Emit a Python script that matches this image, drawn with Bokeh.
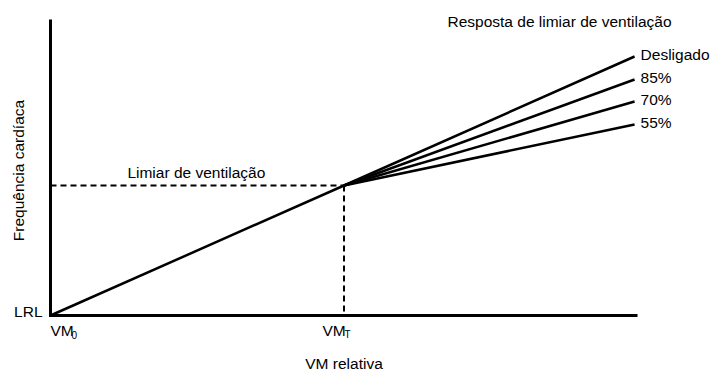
import math
from bokeh.plotting import figure
from bokeh.models import Range1d, ColumnDataSource
from bokeh.core.properties import value
from bokeh.embed import file_html
from bokeh.resources import INLINE

# ---- data (relative VM on x: 0 = VM0, 0.5 = VMT; heart-rate units on y: 0 = LRL) ----
vm_start = 0.0
vm_threshold = 0.5
vm_end = 1.0
vm_fan_end = 0.995
hr_lrl = 0.0
hr_threshold = 130.0
hr_axis_top = 296.0

response_labels = ["Desligado", "85%", "70%", "55%"]
response_end_hr = [259.0, 236.0, 214.0, 191.0]

FONT = value("Liberation Sans")
FS = "15.5px"

p = figure(width=712, height=372, output_backend="svg", toolbar_location=None,
           x_range=Range1d(-0.08518, 1.12777), y_range=Range1d(-57, 315),
           min_border=0, min_border_left=0, min_border_right=0,
           min_border_top=0, min_border_bottom=0)
p.axis.visible = False
p.grid.visible = False
p.outline_line_color = None
p.background_fill_color = "white"
p.border_fill_color = "white"

# axes drawn as a polyline
p.line([vm_start, vm_start, vm_end], [hr_axis_top, hr_lrl, hr_lrl],
       line_color="black", line_width=3, line_join="miter")

# dashed threshold guides
p.line([vm_start, vm_threshold], [hr_threshold, hr_threshold],
       line_color="black", line_width=2, line_dash="6 4")
p.line([vm_threshold, vm_threshold], [hr_threshold, hr_lrl],
       line_color="black", line_width=2, line_dash="6 4")

# rising line to threshold
p.line([vm_start, vm_threshold], [hr_lrl, hr_threshold],
       line_color="black", line_width=2.5)

# fan of responses
for lab, yend in zip(response_labels, response_end_hr):
    p.line([vm_threshold, vm_fan_end], [hr_threshold, yend],
           line_color="black", line_width=2.5)

src = ColumnDataSource(dict(x=[vm_fan_end] * len(response_labels),
                            y=response_end_hr, t=response_labels))
p.text(x="x", y="y", text="t", source=src, x_offset=6, y_offset=-2,
       text_font=FONT, text_font_size=FS, text_color="black",
       text_align="left", text_baseline="middle")

def txt(x, y, s, **kw):
    args = dict(text_font=FONT, text_font_size=FS, text_color="black",
                text_align="left", text_baseline="middle")
    args.update(kw)
    p.text(x=[x], y=[y], text=[s], **args)

# title of the fan
txt(0.6763, 294, "Resposta de limiar de ventilação")
# threshold label
txt(0.131, hr_threshold, "Limiar de ventilação", y_offset=-13.5)
# LRL
txt(vm_start, hr_lrl, "LRL", text_align="right", x_offset=-8, y_offset=-4.5)
# VM0
txt(vm_start, hr_lrl, "VM", x_offset=0, y_offset=14.5)
txt(vm_start, hr_lrl, "0", x_offset=21, y_offset=19, text_font_size="10px")
# VMT
txt(vm_threshold, hr_lrl, "VM", x_offset=-21.5, y_offset=14.5)
txt(vm_threshold, hr_lrl, "T", x_offset=0.5, y_offset=19, text_font_size="10px")
# axis titles
txt(vm_threshold, -47.5, "VM relativa", text_align="center")
txt(-0.0537, 145, "Frequência cardíaca", text_align="center",
    text_baseline="middle", angle=math.pi / 2)

open("out.html", "w").write(file_html(p, INLINE))
